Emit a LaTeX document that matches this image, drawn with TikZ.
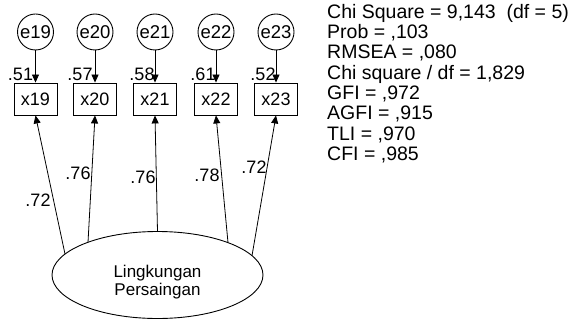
\documentclass[tikz,border=0pt]{standalone}
\usepackage{fontspec}
\setmainfont{Liberation Sans}
\usetikzlibrary{arrows.meta,shapes.geometric}
\begin{document}
\begin{tikzpicture}[x=1pt,y=-1pt,
  errc/.style={draw,circle,minimum size=36pt,inner sep=0pt,line width=0.9pt,font=\fontsize{18.5}{18.5}\selectfont},
  obsbox/.style={draw,rectangle,minimum width=43pt,minimum height=32pt,inner sep=0pt,line width=0.9pt,font=\fontsize{18}{18}\selectfont},
  latent/.style={draw,ellipse,minimum width=211pt,minimum height=87pt,inner sep=0pt,line width=0.9pt},
  lattext/.style={align=center,inner sep=0pt,font=\fontsize{17}{18}\selectfont},
  arr/.style={line width=0.8pt,-{Triangle[length=8pt,width=7pt]}},
  lab/.style={font=\fontsize{18}{18}\selectfont,inner sep=0pt},
  fittext/.style={font=\fontsize{19.5}{20.3}\selectfont,align=left,anchor=north west,inner sep=0pt}]
\useasboundingbox (0,0) rectangle (577,320);
% error terms
\node[errc] (e19) at (35.5,32) {e19};
\node[errc] (e20) at (95,32) {e20};
\node[errc] (e21) at (155,32) {e21};
\node[errc] (e22) at (216,32) {e22};
\node[errc] (e23) at (276,32) {e23};
% observed
\node[obsbox] (x19) at (35.5,99) {x19};
\node[obsbox] (x20) at (95,99) {x20};
\node[obsbox] (x21) at (155,99) {x21};
\node[obsbox] (x22) at (216,99) {x22};
\node[obsbox] (x23) at (276,99) {x23};
\foreach \i in {19,20,21,22,23} \draw[arr] (e\i) -- (x\i);
% squared multiple correlations
\node[lab] (r19) at (20.5,74) {.51};
\node[lab] (r20) at (80,74) {.57};
\node[lab] (r21) at (142,74) {.58};
\node[lab] (r22) at (203,74) {.61};
\node[lab] (r23) at (263,74) {.52};
% latent
\node[latent] (F) at (157.5,275) {};
\node[lattext] (Ft) at (157.5,282) {Lingkungan\\Persaingan};
\coordinate (p19) at (65,254);
\coordinate (p20) at (88,242.3);
\coordinate (p21) at (157.5,231.5);
\coordinate (p22) at (228,242.6);
\coordinate (p23) at (252,255.7);
\foreach \i in {19,20,21,22,23} \draw[arr] (p\i) -- (x\i.south);
% loadings
\node[lab] (w19) at (38,200) {.72};
\node[lab] (w20) at (78,173) {.76};
\node[lab] (w21) at (143,177) {.76};
\node[lab] (w22) at (207,175) {.78};
\node[lab] (w23) at (254,167) {.72};
% fit
\node[fittext] (fit) at (327,4) {Chi Square = 9,143\ \ (df = 5)\\Prob = ,103\\RMSEA = ,080\\Chi square / df = 1,829\\GFI = ,972\\AGFI = ,915\\TLI = ,970\\CFI = ,985};
\end{tikzpicture}
\end{document}
